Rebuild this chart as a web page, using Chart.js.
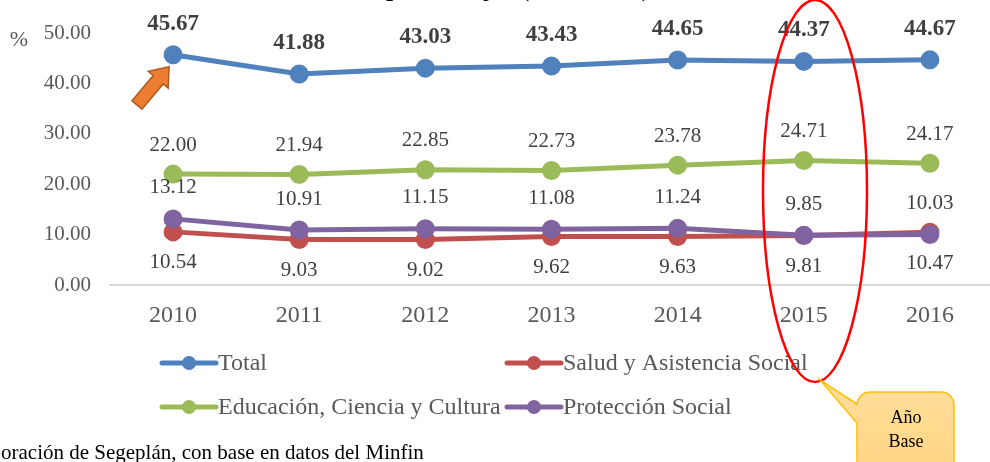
<!DOCTYPE html>
<html>
<head>
<meta charset="utf-8">
<script src="https://cdn.jsdelivr.net/npm/chart.js@4/dist/chart.umd.min.js"></script>
<style>
  html, body { margin: 0; padding: 0; overflow: hidden; background: #ffffff; }
  #wrap { position: relative; width: 1005px; height: 462px; }
</style>
</head>
<body>
<div id="wrap"><canvas id="c" width="1005" height="462"></canvas></div>
<script>
// ---- data ----
const years = ["2010", "2011", "2012", "2013", "2014", "2015", "2016"];
const total = [45.67, 41.88, 43.03, 43.43, 44.65, 44.37, 44.67];
const salud = [10.54, 9.03, 9.02, 9.62, 9.63, 9.81, 10.47];
const educacion = [22.00, 21.94, 22.85, 22.73, 23.78, 24.71, 24.17];
const proteccion = [13.12, 10.91, 11.15, 11.08, 11.24, 9.85, 10.03];
const seriesNames = ["Total", "Salud y Asistencia Social", "Educación, Ciencia y Cultura", "Protección Social"];
const yTicks = [0, 10, 20, 30, 40, 50];

const SERIF = '"Liberation Serif", "Times New Roman", serif';
const colors = ["#4F81BD", "#C0504D", "#9BBB59", "#8064A2"];

// label style per dataset: offset (negative = above)
const labelStyle = [
  { dy: -31, font: "bold 23px " + SERIF, color: "#404040" },
  { dy: 31, font: "21px " + SERIF, color: "#404040" },
  { dy: -29, font: "21px " + SERIF, color: "#404040" },
  { dy: -31, font: "21px " + SERIF, color: "#404040" }
];
// legend layout
const legendPos = [[162, 363], [507, 363], [162, 407], [507, 407]];

const valueLabels = {
  id: "valueLabels",
  afterDatasetsDraw(chart) {
    const ctx = chart.ctx;
    ctx.save();
    ctx.textAlign = "center";
    ctx.textBaseline = "middle";
    chart.data.datasets.forEach((ds, i) => {
      const meta = chart.getDatasetMeta(i);
      const st = labelStyle[i];
      ctx.font = st.font;
      ctx.fillStyle = st.color;
      meta.data.forEach((pt, j) => {
        ctx.fillText(ds.data[j].toFixed(2), pt.x, pt.y + st.dy);
      });
    });
    ctx.restore();
  }
};

const decorations = {
  id: "decorations",
  afterDraw(chart) {
    const ctx = chart.ctx;
    ctx.save();

    // title (cut off at top)
    ctx.font = "bold 26px " + SERIF;
    ctx.fillStyle = "#000000";
    ctx.textAlign = "left";
    ctx.textBaseline = "alphabetic";
    const tTxt = "Gasto social en porcentajes (2010-2016)";
    const pre = ctx.measureText("Gasto social en ").width;
    ctx.fillText(tTxt, 386 - pre, -4);

    // % unit
    ctx.font = "22px " + SERIF;
    ctx.fillStyle = "#595959";
    ctx.textAlign = "center";
    ctx.textBaseline = "middle";
    ctx.fillText("%", 19, 40);

    // legend
    chart.data.datasets.forEach((ds, i) => {
      const [lx, ly] = legendPos[i];
      ctx.strokeStyle = ds.borderColor;
      ctx.lineWidth = 5;
      ctx.lineCap = "round";
      ctx.beginPath();
      ctx.moveTo(lx, ly);
      ctx.lineTo(lx + 54, ly);
      ctx.stroke();
      ctx.fillStyle = ds.borderColor;
      ctx.beginPath();
      ctx.arc(lx + 27, ly, 7, 0, Math.PI * 2);
      ctx.fill();
      ctx.font = "24px " + SERIF;
      ctx.fillStyle = "#595959";
      ctx.textAlign = "left";
      ctx.textBaseline = "middle";
      ctx.fillText(ds.label, lx + 56, ly + 1);
    });

    // footnote (cut at left)
    ctx.font = "21px " + SERIF;
    ctx.fillStyle = "#000000";
    ctx.textAlign = "left";
    ctx.textBaseline = "alphabetic";
    const fTxt = "Fuente: Elaboración de Segeplán, con base en datos del Minfin";
    const fPre = ctx.measureText("Fuente: Elab").width;
    ctx.fillText(fTxt, 1 - fPre, 459);

    // orange arrow
    ctx.save();
    ctx.translate(137, 105);
    ctx.rotate(-50 * Math.PI / 180);
    const L = 50, sw = 6.5, hw = 13, hl = 17;
    ctx.beginPath();
    ctx.moveTo(0, -sw);
    ctx.lineTo(L - hl, -sw);
    ctx.lineTo(L - hl, -hw);
    ctx.lineTo(L, 0);
    ctx.lineTo(L - hl, hw);
    ctx.lineTo(L - hl, sw);
    ctx.lineTo(0, sw);
    ctx.closePath();
    ctx.fillStyle = "#ED7D31";
    ctx.fill();
    ctx.strokeStyle = "#AE5A21";
    ctx.lineWidth = 1.5;
    ctx.lineJoin = "miter";
    ctx.stroke();
    ctx.restore();

    // red ellipse
    ctx.beginPath();
    ctx.ellipse(815, 191, 52, 191, 0, 0, Math.PI * 2);
    ctx.strokeStyle = "#FF0000";
    ctx.lineWidth = 2.5;
    ctx.stroke();

    // callout
    const bx = 857, by = 392, bw = 97, bh = 90, r = 13;
    ctx.beginPath();
    ctx.moveTo(bx + r, by);
    ctx.lineTo(bx + bw - r, by);
    ctx.arcTo(bx + bw, by, bx + bw, by + r, r);
    ctx.lineTo(bx + bw, by + bh - r);
    ctx.arcTo(bx + bw, by + bh, bx + bw - r, by + bh, r);
    ctx.lineTo(bx + r, by + bh);
    ctx.arcTo(bx, by + bh, bx, by + bh - r, r);
    ctx.lineTo(bx, 423);
    ctx.lineTo(820, 380);
    ctx.lineTo(bx, 404);
    ctx.lineTo(bx, by + r);
    ctx.arcTo(bx, by, bx + r, by, r);
    ctx.closePath();
    const g = ctx.createLinearGradient(0, by, 0, by + bh);
    g.addColorStop(0, "#FFDD99");
    g.addColorStop(1, "#FFD480");
    ctx.fillStyle = g;
    ctx.fill();
    ctx.strokeStyle = "#FFC000";
    ctx.lineWidth = 1.5;
    ctx.stroke();
    ctx.font = "18px " + SERIF;
    ctx.fillStyle = "#000000";
    ctx.textAlign = "center";
    ctx.textBaseline = "middle";
    ctx.fillText("Año", 906, 418);
    ctx.fillText("Base", 906, 442);

    ctx.restore();
  }
};

const seriesData = [total, salud, educacion, proteccion];
const drawOrder = [0, 3, 1, 2];

new Chart(document.getElementById("c"), {
  type: "line",
  data: {
    labels: years,
    datasets: seriesData.map((d, i) => ({
      label: seriesNames[i],
      data: d,
      borderColor: colors[i],
      backgroundColor: colors[i],
      pointBackgroundColor: colors[i],
      pointBorderColor: colors[i],
      borderWidth: 5,
      pointRadius: 7,
      pointHoverRadius: 7,
      tension: 0,
      fill: false,
      order: drawOrder[i]
    }))
  },
  options: {
    responsive: false,
    animation: false,
    devicePixelRatio: 1,
    layout: { padding: { left: 0, right: 3, top: 33, bottom: 0 } },
    plugins: {
      legend: { display: false },
      title: { display: false },
      tooltip: { enabled: false }
    },
    scales: {
      x: {
        type: "category",
        offset: true,
        grid: { display: false, drawTicks: false },
        border: { display: true, color: "#D9D9D9", width: 2 },
        ticks: {
          autoSkip: false, maxRotation: 0,
          padding: 16,
          color: "#595959",
          font: { family: SERIF, size: 24 }
        },
        afterFit(scale) { scale.height = 177; }
      },
      y: {
        min: 0, max: 50,
        afterBuildTicks(scale) { scale.ticks = yTicks.map(v => ({ value: v })); },
        grid: { display: false, drawTicks: false },
        border: { display: false },
        ticks: {
          padding: 19,
          color: "#595959",
          font: { family: SERIF, size: 21 },
          callback: (v) => Number(v).toFixed(2)
        },
        afterFit(scale) { scale.width = 110; }
      }
    }
  },
  plugins: [valueLabels, decorations]
});
</script>
</body>
</html>
